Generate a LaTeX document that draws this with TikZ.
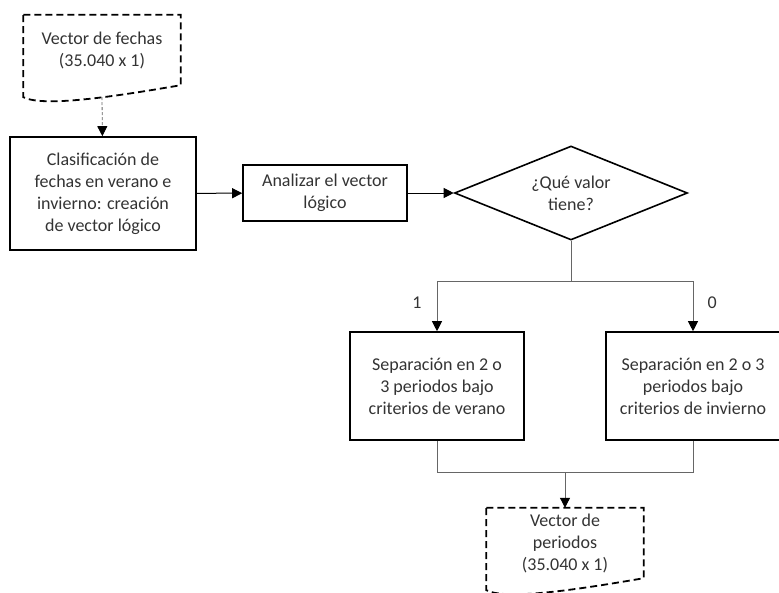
\documentclass[tikz,border=0pt]{standalone}
\usepackage{fontspec}
\setmainfont{Carlito}
\usetikzlibrary{shapes.geometric,arrows.meta}

\begin{document}
\begin{tikzpicture}[x=1pt,y=-1pt,
  every node/.style={font=\fontsize{18}{22}\selectfont,text=black!80,align=center,inner sep=0pt},
  box/.style={draw,line width=1.6pt,minimum width=#1},
  doc/.style={minimum width=157pt,minimum height=70pt},
  docline/.style={line width=1.8pt,dash pattern=on 7pt off 4pt},
  line/.style={black!60,line width=1pt},
  arr/.style={line,-{Triangle[length=10pt,width=10pt,color=black]}}]
\useasboundingbox (0,0) rectangle (779,592);

\node[doc] (Vf) at (102,50) {Vector de fechas\\(35.040 x 1)};
\node[box=186pt,minimum height=113pt] (Cl) at (103,193.5) {Clasificación de\\fechas en verano e\\invierno: creación\\de vector lógico};
\node[box=164pt,minimum height=56pt] (An) at (325,193) {Analizar el vector\\lógico};
\node[draw,line width=1.6pt,diamond,shape aspect=2.5,minimum width=233pt,minimum height=94pt] (Q) at (571,193) {¿Qué valor\\tiene?};
\node[box=174pt,minimum height=108pt] (Sv) at (437,386) {Separación en 2 o\\3 periodos bajo\\criterios de verano};
\node[box=174pt,minimum height=108pt] (Si) at (693,386) {Separación en 2 o 3\\periodos bajo\\criterios de invierno};
\node[doc] (Vp) at (565,543) {Vector de\\periodos\\(35.040 x 1)};

\draw[docline] (Vf.north west) -- (Vf.north east) -- (Vf.south east) .. controls +(-70,12) and +(20,10) .. ([yshift=-12pt]Vf.south west) -- cycle;
\draw[docline] (Vp.north west) -- (Vp.north east) -- (Vp.south east) .. controls +(-70,12) and +(20,10) .. ([yshift=-12pt]Vp.south west) -- cycle;

\coordinate (Vfb) at ([yshift=-12pt]Vf.south);
\coordinate (J) at (571,281);
\coordinate (M) at (565,472);

\draw[arr,line width=0.8pt,dash pattern=on 3pt off 2pt] (Vfb) -- (Cl);
\draw[arr,black] (Cl) -- (An);
\draw[arr,black] (An) -- (Q);
\draw[line] (Q) -- (J);
\draw[arr] (J) -| node[pos=.72,left=15pt]{1} (Sv);
\draw[arr] (J) -| node[pos=.72,right=14pt]{0} (Si);
\draw[line] (Sv) |- (M);
\draw[line] (Si) |- (M);
\draw[arr] (M) -- (Vp);

\end{tikzpicture}
\end{document}
